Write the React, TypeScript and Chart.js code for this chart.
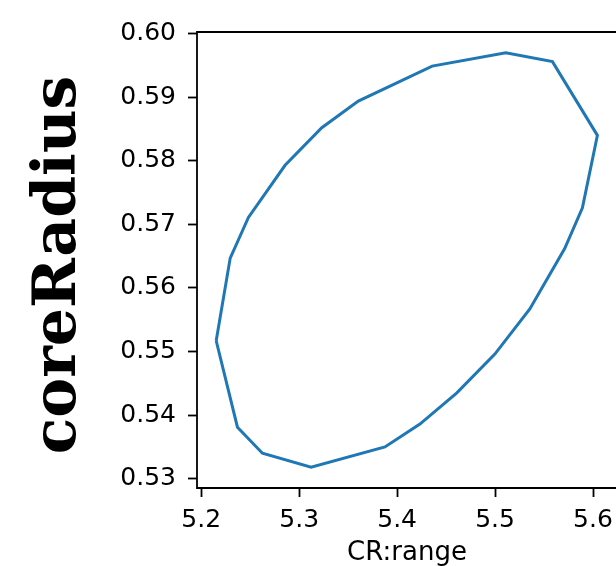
import React, { useEffect, useRef } from "react";
import { Chart, registerables } from "chart.js";

Chart.register(...registerables);

// Contour points (CR:range, coreRadius)
const crRange: number[] = [
  5.2153, 5.2296, 5.2482, 5.2856, 5.3231, 5.3604, 5.4358, 5.511, 5.5586, 5.6045,
  5.5892, 5.5711, 5.5355, 5.4998, 5.461, 5.4233, 5.3876, 5.3122, 5.2625, 5.237, 5.2153,
];
const coreRadius: number[] = [
  0.5517, 0.5647, 0.5711, 0.5793, 0.5852, 0.5894, 0.5949, 0.597, 0.5956, 0.584,
  0.5726, 0.5662, 0.5567, 0.5496, 0.5435, 0.5386, 0.535, 0.5318, 0.534, 0.5381, 0.5517,
];
const xLimits: number[] = [5.1957, 5.6245];
const yLimits: number[] = [0.52854, 0.60026];
const xLabel = "CR:range";
const yLabel = "coreRadius";

const spinePlugin = {
  id: "spines",
  afterDatasetsDraw(chart: any) {
    const { ctx, chartArea } = chart;
    const { left, right, top, bottom } = chartArea;
    ctx.save();
    ctx.strokeStyle = "#000";
    ctx.lineWidth = 1.8;
    ctx.beginPath();
    ctx.moveTo(left, top);
    ctx.lineTo(left, bottom);
    ctx.lineTo(right, bottom);
    ctx.lineTo(right, top);
    ctx.closePath();
    ctx.stroke();
    ctx.restore();
  },
};

const yLabelPlugin = {
  id: "yLabel",
  afterDraw(chart: any) {
    const { ctx, chartArea } = chart;
    ctx.save();
    ctx.translate(75, (chartArea.top + chartArea.bottom) / 2 + 5);
    ctx.rotate(-Math.PI / 2);
    ctx.fillStyle = "#000";
    ctx.font = "bold 60px 'DejaVu Serif'";
    ctx.textAlign = "center";
    ctx.textBaseline = "alphabetic";
    ctx.fillText(yLabel, 0, 0);
    ctx.restore();
  },
};

export default function App() {
  const ref = useRef<HTMLCanvasElement | null>(null);
  useEffect(() => {
    if (!ref.current) return;
    const points = crRange.map((x, i) => ({ x, y: coreRadius[i] }));
    const chart = new Chart(ref.current, {
      type: "scatter",
      data: {
        datasets: [
          {
            data: points,
            showLine: true,
            borderColor: "#1f77b4",
            backgroundColor: "#1f77b4",
            borderWidth: 3,
            pointRadius: 0,
            fill: false,
            tension: 0,
          },
        ],
      },
      options: {
        animation: false,
        responsive: false,
        devicePixelRatio: 1,
        layout: { padding: { left: 0, right: 23, top: 32, bottom: 0 } },
        plugins: { legend: { display: false }, tooltip: { enabled: false } },
        scales: {
          x: {
            type: "linear",
            min: xLimits[0],
            max: xLimits[1],
            afterFit: (s: any) => {
              s.height = 78;
            },
            border: { display: false },
            grid: {
              display: true,
              drawOnChartArea: false,
              drawTicks: true,
              tickLength: 9,
              tickWidth: 1.8,
              tickColor: "#000",
            },
            ticks: {
              stepSize: 0.1,
              includeBounds: false,
              autoSkip: false,
              maxRotation: 0,
              padding: 8,
              color: "#000",
              font: { family: "DejaVu Sans", size: 25 },
              callback: (v: any) => Number(v).toFixed(1),
            },
            title: {
              display: true,
              text: xLabel,
              color: "#000",
              font: { family: "DejaVu Sans", size: 26, lineHeight: 1 },
              padding: { top: 0, bottom: 0 },
            },
          },
          y: {
            type: "linear",
            min: yLimits[0],
            max: yLimits[1],
            afterFit: (s: any) => {
              s.width = 197;
            },
            border: { display: false },
            grid: {
              display: true,
              drawOnChartArea: false,
              drawTicks: true,
              tickLength: 9,
              tickWidth: 1.8,
              tickColor: "#000",
            },
            ticks: {
              stepSize: 0.01,
              includeBounds: false,
              autoSkip: false,
              padding: 12,
              color: "#000",
              font: { family: "DejaVu Sans", size: 25 },
              callback: (v: any) => Number(v).toFixed(2),
            },
            title: { display: false },
          },
        },
      },
      plugins: [spinePlugin, yLabelPlugin],
    });
    return () => chart.destroy();
  }, []);

  return (
    <div
      style={{
        position: "absolute",
        left: 0,
        top: 0,
        width: 616,
        height: 566,
        overflow: "hidden",
        background: "#fff",
      }}
    >
      <canvas ref={ref} width={640} height={566} style={{ width: 640, height: 566, display: "block" }} />
    </div>
  );
}
